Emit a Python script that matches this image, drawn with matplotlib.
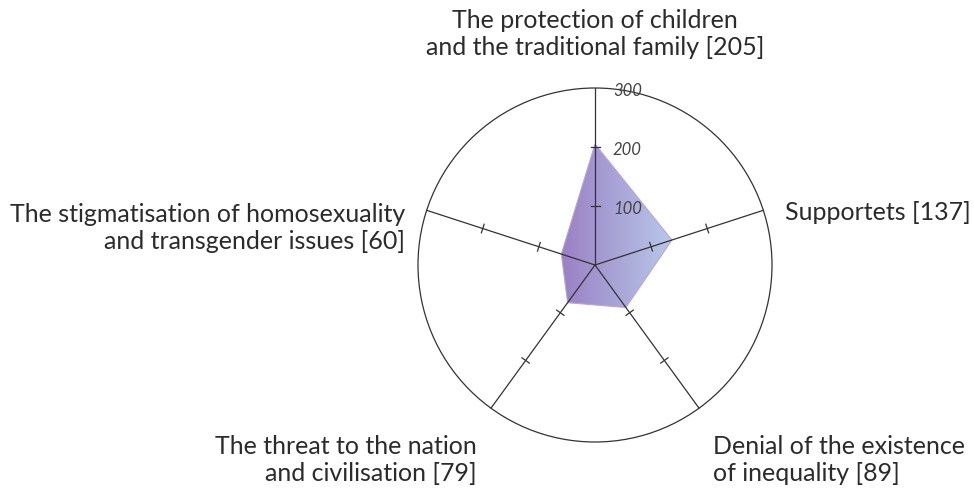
import numpy as np
import matplotlib
matplotlib.use("Agg")
import matplotlib.pyplot as plt
from matplotlib.colors import LinearSegmentedColormap
from matplotlib.patches import Polygon, Circle

categories = [
    "The protection of children\nand the traditional family [205]",
    "Supportets [137]",
    "Denial of the existence\nof inequality [89]",
    "The threat to the nation\nand civilisation [79]",
    "The stigmatisation of homosexuality\nand transgender issues [60]",
]
values = [205, 137, 89, 79, 60]
rticks = [100, 200, 300]
rmax = 300

plt.rcParams['font.family'] = ['Lato', 'DejaVu Sans']

W, H = 974, 490
cx, cy, rpx = 595, 265, 177
k = rmax / rpx  # data units per pixel

fig = plt.figure(figsize=(W / 100, H / 100), dpi=100)
ax = fig.add_axes([0, 0, 1, 1])
ax.set_xlim(-cx * k, (W - cx) * k)
ax.set_ylim((cy - H) * k, cy * k)
ax.axis('off')

n = len(values)
theta = np.arange(n) * 2 * np.pi / n
ux, uy = np.sin(theta), np.cos(theta)

line_col = '#333333'
ax.add_patch(Circle((0, 0), rmax, fill=False, ec=line_col, lw=0.9))

px = np.array(values) * ux
py = np.array(values) * uy
poly = Polygon(np.column_stack([px, py]), closed=True, fc='none', ec='#b9a3dc', lw=0.8, zorder=3)
ax.add_patch(poly)
cmap = LinearSegmentedColormap.from_list('g', ['#9a80c4', '#b8c8e8'])
grad = np.linspace(0, 1, 256).reshape(1, -1)
im = ax.imshow(grad, cmap=cmap, extent=[px.min(), px.max(), py.min(), py.max()],
               aspect='auto', zorder=2, interpolation='bilinear')
im.set_clip_path(poly)

tl = 4.5 * k
for i in range(n):
    ax.plot([0, rmax * ux[i]], [0, rmax * uy[i]], color=line_col, lw=0.9, zorder=4)
    for r in rticks[:-1]:
        bx, by = r * ux[i], r * uy[i]
        nx, ny = uy[i], -ux[i]
        ax.plot([bx - tl * nx, bx + tl * nx], [by - tl * ny, by + tl * ny],
                color=line_col, lw=0.9, zorder=4)

for r in rticks:
    ax.text(18 * k, r - 3 * k, str(r), fontsize=12, style='italic', color='#444444',
            ha='left', va='center', zorder=5)

fs = 18
tc = '#2b2b2b'
ls = 1.18
ax.text(0, (cy - 34) * k, categories[0], ha='center', va='center', fontsize=fs, color=tc,
        linespacing=ls)
ax.text((785 - cx) * k, (cy - 212) * k, categories[1], ha='left', va='center', fontsize=fs, color=tc)
ax.text((713 - cx) * k, (cy - 460) * k, categories[2], ha='left', va='center', fontsize=fs, color=tc,
        linespacing=ls)
ax.text((477 - cx) * k, (cy - 460) * k, categories[3], ha='right', va='center', fontsize=fs, color=tc,
        linespacing=ls, multialignment='right')
ax.text((405 - cx) * k, (cy - 228) * k, categories[4], ha='right', va='center', fontsize=fs, color=tc,
        linespacing=ls, multialignment='right')

fig.savefig('out.png', dpi=100, facecolor='white')
